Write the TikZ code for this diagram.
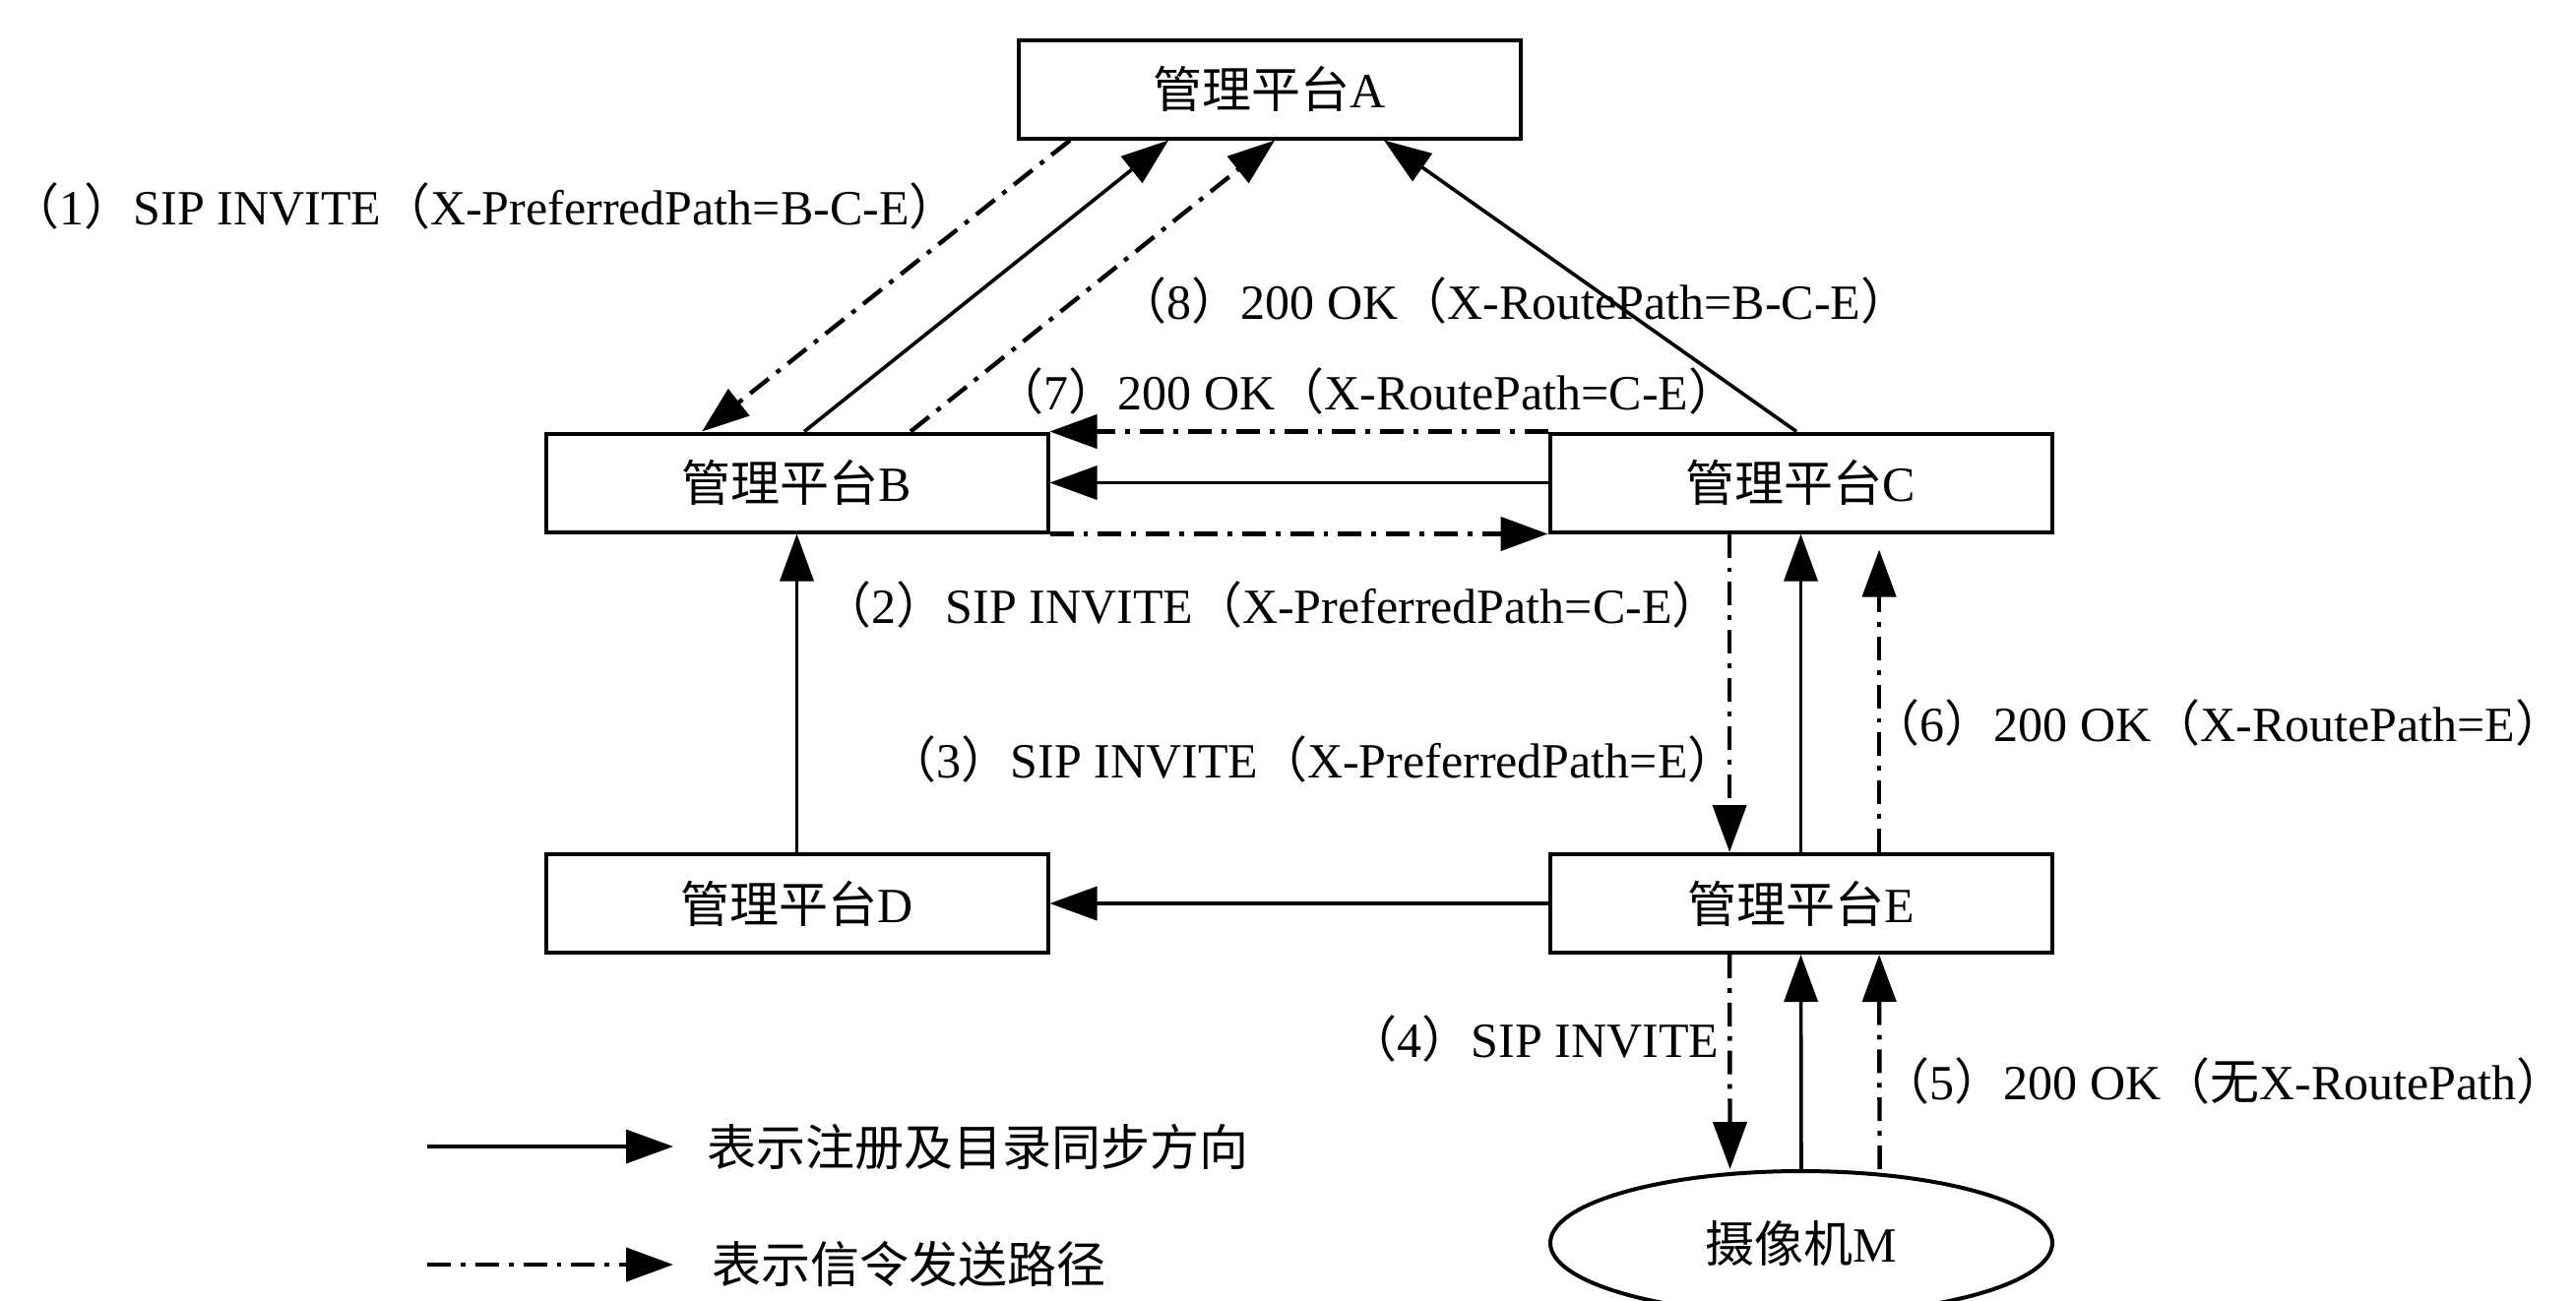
\documentclass[tikz,border=0pt]{standalone}
\usepackage{fontspec}
\setmainfont{Liberation Serif}
\newfontfamily\cjk{Noto Sans CJK SC}
\usepackage{tikz}
\usetikzlibrary{positioning, arrows.meta, shapes.geometric}
\newcommand\zh[1]{{\cjk #1}}
\newcommand\lpz{\zh{（}}
\newcommand\rpz{\zh{）}}
\tikzset{
  txt/.style={font=\fontsize{12.5}{15}\selectfont, inner sep=0pt},
  platform/.style={txt, draw, line width=1pt, minimum width=127.5pt, minimum height=25pt},
  reg/.style={line width=0.9pt, -{Triangle[length=12pt,width=8.5pt]}},
  sig/.style={reg, line width=1.1pt, dash pattern=on 6pt off 2.5pt on 1.2pt off 2.5pt}
}

\begin{document}
\begin{tikzpicture}[x=25pt, y=25pt]
	\useasboundingbox (0,0) rectangle (26.17,-13.21);

	% platforms
	\node[platform] (A) at (12.895,-0.905) {\zh{管理平台}A};
	\node[platform] (B) at (8.095,-4.905)  {\zh{管理平台}B};
	\node[platform] (C) at (18.295,-4.905) {\zh{管理平台}C};
	\node[platform] (D) at (8.095,-9.18)   {\zh{管理平台}D};
	\node[platform] (E) at (18.295,-9.18)  {\zh{管理平台}E};
	\node[txt, draw, line width=1pt, ellipse, minimum width=127.5pt, minimum height=36.5pt] (M) at (18.30,-12.63) {\zh{摄像机}M};

	% registration and catalogue sync
	\draw[reg] ([xshift=1.9pt]B.north) -- ([xshift=-25.6pt]A.south);
	\draw[reg] ([xshift=-1.1pt]C.north) -- ([xshift=29.1pt]A.south);
	\draw[reg] (C.west) -- (B.east);
	\draw[reg] (D.north) -- (B.south);
	\draw[reg] (E.west) -- (D.east);
	\draw[reg] (E.north) -- (C.south);
	\draw[reg] (M.north) -- (E.south);

	% signalling path
	\draw[sig] ([xshift=-50.6pt]A.south) -- ([xshift=-24.1pt]B.north);
	\draw[sig] (B.south east) -- (C.south west);
	\draw[sig] ([xshift=-18.1pt]C.south) -- ([xshift=-18.1pt]E.north);
	\draw[sig] ([xshift=-18.1pt]E.south) -- ([xshift=-18.1pt]M.north);
	\draw[sig] ([xshift=19.9pt]M.north) -- ([xshift=19.9pt]E.south);
	\draw[sig, shorten >=4pt] ([xshift=19.9pt]E.north) -- ([xshift=19.9pt]C.south);
	\draw[sig] (C.north west) -- (B.north east);
	\draw[sig] ([xshift=28.9pt]B.north) -- ([xshift=1.4pt]A.south);

	% labels
	\node[txt, anchor=west] (l1) at (0.10,-2.09)  {\lpz1\rpz SIP INVITE\lpz X-PreferredPath=B-C-E\rpz};
	\node[txt, anchor=west] (l2) at (8.35,-6.14)  {\lpz2\rpz SIP INVITE\lpz X-PreferredPath=C-E\rpz};
	\node[txt, anchor=west] (l3) at (9.01,-7.71)  {\lpz3\rpz SIP INVITE\lpz X-PreferredPath=E\rpz};
	\node[txt, anchor=west] (l4) at (13.69,-10.55) {\lpz4\rpz SIP INVITE};
	\node[txt, anchor=west] (l5) at (19.10,-10.98) {\lpz5\rpz 200 OK\lpz\zh{无}X-RoutePath\rpz};
	\node[txt, anchor=west] (l6) at (19.00,-7.34)  {\lpz6\rpz 200 OK\lpz X-RoutePath=E\rpz};
	\node[txt, anchor=west] (l7) at (10.10,-3.97)  {\lpz7\rpz 200 OK\lpz X-RoutePath=C-E\rpz};
	\node[txt, anchor=west] (l8) at (11.35,-3.05)  {\lpz8\rpz 200 OK\lpz X-RoutePath=B-C-E\rpz};

	% legend
	\coordinate (r1) at (4.34,-11.65);
	\coordinate (r2) at (6.84,-11.65);
	\coordinate (s1) at (4.34,-12.85);
	\coordinate (s2) at (6.84,-12.85);
	\draw[reg] (r1) -- (r2);
	\draw[sig] (s1) -- (s2);
	\node[txt, anchor=west] (regtext) at (7.18,-11.65) {\zh{表示注册及目录同步方向}};
	\node[txt, anchor=west] (sigtext) at (7.23,-12.85) {\zh{表示信令发送路径}};
\end{tikzpicture}
\end{document}
